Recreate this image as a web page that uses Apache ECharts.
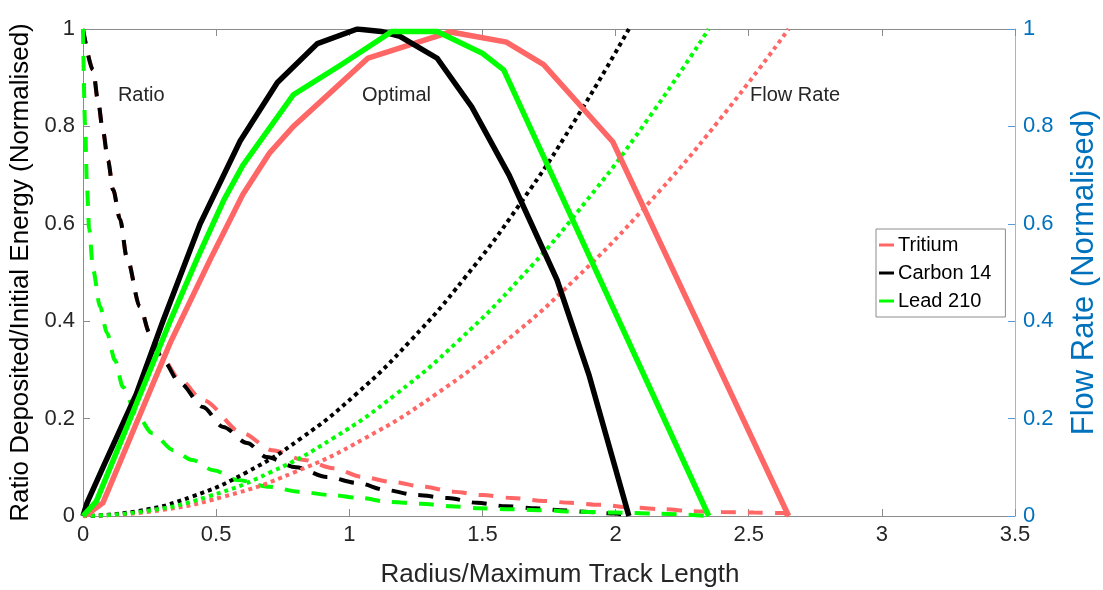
<!DOCTYPE html>
<html>
<head>
<meta charset="utf-8">
<script src="https://cdn.jsdelivr.net/npm/echarts@6/dist/echarts.min.js"></script>
<style>
html,body{margin:0;padding:0;background:#fff;}
#chart{width:1103px;height:590px;}
</style>
</head>
<body>
<div id="chart"></div>
<script>
// ---- Data ----
const seriesNames = ['Tritium', 'Carbon 14', 'Lead 210'];

// Optimal (solid, left axis)
const tritiumOptX = [0, 0.02, 0.075, 0.2, 0.327, 0.477, 0.6, 0.7, 0.79, 1.07, 1.38, 1.59, 1.73, 1.99, 2.65];
const tritiumOptY = [0, 0.005, 0.027, 0.19, 0.355, 0.526, 0.66, 0.745, 0.80, 0.94, 0.994, 0.973, 0.927, 0.768, 0];
const carbonOptX = [0, 0.015, 0.075, 0.2, 0.3, 0.44, 0.59, 0.73, 0.88, 1.03, 1.12, 1.19, 1.33, 1.46, 1.60, 1.78, 1.90, 2.05];
const carbonOptY = [0, 0.027, 0.10, 0.25, 0.40, 0.60, 0.77, 0.89, 0.97, 1.0, 0.995, 0.985, 0.94, 0.84, 0.70, 0.485, 0.29, 0];
const leadOptX = [0, 0.05, 0.2, 0.327, 0.43, 0.53, 0.6, 0.79, 0.965, 1.16, 1.33, 1.50, 1.58, 2.35];
const leadOptY = [0, 0.03, 0.23, 0.40, 0.53, 0.65, 0.72, 0.865, 0.925, 0.995, 0.995, 0.95, 0.916, 0];

// Ratio (dashed, left axis)
const tritiumRatioX = [0, 0.038, 0.056, 0.075, 0.094, 0.113, 0.139, 0.165, 0.214, 0.25, 0.30, 0.364, 0.45, 0.60, 0.71, 0.83, 0.94, 1.05, 1.16, 1.28, 1.39, 1.50, 1.61, 1.73, 1.83, 1.94, 2.07, 2.18, 2.29, 2.40, 2.52, 2.63, 2.65];
const tritiumRatioY = [1.0, 0.916, 0.854, 0.79, 0.73, 0.67, 0.61, 0.53, 0.43, 0.376, 0.322, 0.28, 0.238, 0.17, 0.135, 0.115, 0.098, 0.08, 0.07, 0.06, 0.05, 0.043, 0.037, 0.031, 0.027, 0.023, 0.017, 0.014, 0.01, 0.008, 0.007, 0.006, 0];
const carbonRatioX = [0, 0.038, 0.056, 0.075, 0.094, 0.113, 0.139, 0.165, 0.214, 0.25, 0.30, 0.364, 0.45, 0.526, 0.616, 0.69, 0.80, 0.916, 1.03, 1.14, 1.25, 1.37, 1.48, 1.59, 1.70, 1.79, 1.90, 2.0, 2.05];
const carbonRatioY = [1.0, 0.916, 0.854, 0.79, 0.73, 0.67, 0.61, 0.53, 0.43, 0.376, 0.32, 0.273, 0.224, 0.183, 0.15, 0.121, 0.10, 0.08, 0.068, 0.053, 0.043, 0.037, 0.027, 0.02, 0.016, 0.012, 0.008, 0.005, 0];
const leadRatioX = [0, 0.008, 0.015, 0.023, 0.038, 0.064, 0.09, 0.12, 0.15, 0.20, 0.26, 0.34, 0.41, 0.49, 0.58, 0.70, 0.81, 0.93, 1.04, 1.15, 1.27, 1.38, 1.49, 1.60, 1.72, 1.85, 2.0, 2.15, 2.35];
const leadRatioY = [1.0, 0.8, 0.675, 0.59, 0.505, 0.43, 0.376, 0.32, 0.265, 0.21, 0.17, 0.135, 0.115, 0.094, 0.074, 0.06, 0.05, 0.043, 0.037, 0.029, 0.025, 0.02, 0.016, 0.014, 0.012, 0.009, 0.007, 0.005, 0];

// Flow rate (dotted, right axis)
const tritiumFlowX = [0, 0.265, 0.53, 0.795, 1.06, 1.325, 1.59, 1.855, 2.12, 2.385, 2.65];
const tritiumFlowY = [0, 0.01, 0.04, 0.09, 0.16, 0.25, 0.36, 0.49, 0.64, 0.81, 1.0];
const carbonFlowX = [0, 0.205, 0.41, 0.615, 0.82, 1.025, 1.23, 1.435, 1.64, 1.845, 2.05];
const carbonFlowY = [0, 0.01, 0.04, 0.09, 0.16, 0.25, 0.36, 0.49, 0.64, 0.81, 1.0];
const leadFlowX = [0, 0.235, 0.47, 0.705, 0.94, 1.175, 1.41, 1.645, 1.88, 2.115, 2.35];
const leadFlowY = [0, 0.01, 0.04, 0.09, 0.16, 0.25, 0.36, 0.49, 0.64, 0.81, 1.0];

// Annotations (data coordinates)
const annotationTexts = ['Ratio', 'Optimal', 'Flow Rate'];
const annotationX = [0.131, 1.048, 2.505];
const annotationY = [0.864, 0.864, 0.864];

const xTitle = 'Radius/Maximum Track Length';
const yLeftTitle = 'Ratio Deposited/Initial Energy (Normalised)';
const yRightTitle = 'Flow Rate (Normalised)';

// ---- Build ----
const colors = ['#FF6666', '#000000', '#00FF00'];
const zip = (xs, ys) => xs.map((x, i) => [x, ys[i]]);
const FONT = 'Liberation Sans, Arial, sans-serif';

const ratioData = [zip(tritiumRatioX, tritiumRatioY), zip(carbonRatioX, carbonRatioY), zip(leadRatioX, leadRatioY)];
const flowData = [zip(tritiumFlowX, tritiumFlowY), zip(carbonFlowX, carbonFlowY), zip(leadFlowX, leadFlowY)];
const optData = [zip(tritiumOptX, tritiumOptY), zip(carbonOptX, carbonOptY), zip(leadOptX, leadOptY)];

const series = [];
for (let i = 0; i < 3; i++) {
  series.push({
    name: seriesNames[i] + ' ratio', type: 'line', data: ratioData[i], xAxisIndex: 0, yAxisIndex: 0,
    showSymbol: false, smooth: 0.3, smoothMonotone: 'x', z: 2,
    lineStyle: { color: colors[i], width: 4, type: [15, 12], cap: 'butt' }
  });
}
for (let i = 0; i < 3; i++) {
  series.push({
    name: seriesNames[i] + ' flow', type: 'line', data: flowData[i], xAxisIndex: 0, yAxisIndex: 1,
    showSymbol: false, smooth: true, z: 3,
    lineStyle: { color: colors[i], width: 4, type: [4, 4], cap: 'butt' }
  });
}
for (let i = 0; i < 3; i++) {
  series.push({
    name: seriesNames[i], type: 'line', data: optData[i], xAxisIndex: 0, yAxisIndex: 0,
    showSymbol: false, z: 4, itemStyle: { color: colors[i] },
    lineStyle: { color: colors[i], width: 5.5, join: 'miter' }
  });
}

const axisGray = '#8c8c8c';
const chart = echarts.init(document.getElementById('chart'), null, { renderer: 'canvas' });
chart.setOption({
  animation: false,
  backgroundColor: '#ffffff',
  textStyle: { fontFamily: FONT },
  grid: { left: 83, right: 88, top: 29, bottom: 74, containLabel: false, outerBoundsMode: 'none' },
  legend: {
    data: seriesNames, orient: 'vertical', left: 876, top: 229,
    backgroundColor: '#ffffff', borderColor: '#8c8c8c', borderWidth: 1, borderRadius: 0,
    padding: [6, 14, 6, 3], itemGap: 8, itemWidth: 15, itemHeight: 3,
    icon: 'rect',
    textStyle: { fontSize: 20, color: '#000', fontFamily: FONT, padding: [0, 0, 0, -1] }
  },
  xAxis: [{
    type: 'value', min: 0, max: 3.5, interval: 0.5, position: 'bottom',
    name: xTitle, nameLocation: 'middle', nameGap: 46,
    nameTextStyle: { fontSize: 26, color: '#262626', fontFamily: FONT, padding: [0, 0, 0, 22] },
    axisLine: { show: true, onZero: false, lineStyle: { color: axisGray, width: 1 } },
    axisTick: { show: true, inside: true, length: 7, lineStyle: { color: axisGray } },
    axisLabel: { fontSize: 22, color: '#262626', margin: 8, fontFamily: FONT },
    splitLine: { show: false }
  }, {
    type: 'value', min: 0, max: 3.5, interval: 0.5, position: 'top',
    axisLine: { show: true, onZero: false, lineStyle: { color: axisGray, width: 1 } },
    axisTick: { show: true, inside: true, length: 7, lineStyle: { color: axisGray } },
    axisLabel: { show: false }, splitLine: { show: false }
  }],
  yAxis: [{
    type: 'value', min: 0, max: 1, interval: 0.2, position: 'left',
    name: yLeftTitle, nameLocation: 'middle', nameGap: 47,
    nameTextStyle: { fontSize: 26, color: '#000', fontFamily: FONT },
    axisLine: { show: true, onZero: false, lineStyle: { color: axisGray, width: 1 } },
    axisTick: { show: true, inside: true, length: 7, lineStyle: { color: axisGray } },
    axisLabel: { fontSize: 22, color: '#262626', margin: 8, fontFamily: FONT },
    splitLine: { show: false }
  }, {
    type: 'value', min: 0, max: 1, interval: 0.2, position: 'right',
    name: yRightTitle, nameLocation: 'middle', nameGap: 54,
    nameTextStyle: { fontSize: 31, color: '#0072BD', fontFamily: FONT },
    axisLine: { show: true, onZero: false, lineStyle: { color: '#8fbbe0', width: 1 } },
    axisTick: { show: true, inside: true, length: 7, lineStyle: { color: '#5a9bd3' } },
    axisLabel: { fontSize: 22, color: '#0072BD', margin: 8, fontFamily: FONT },
    splitLine: { show: false }
  }],
  series: series
});

const graphics = annotationTexts.map((t, i) => {
  const p = chart.convertToPixel({ xAxisIndex: 0, yAxisIndex: 0 }, [annotationX[i], annotationY[i]]);
  return {
    type: 'text', x: p[0], y: p[1], z: 10,
    style: { text: t, fontSize: 20, fill: '#262626', fontFamily: FONT, textVerticalAlign: 'middle', textAlign: 'left' }
  };
});
chart.setOption({ graphic: graphics });
</script>
</body>
</html>
